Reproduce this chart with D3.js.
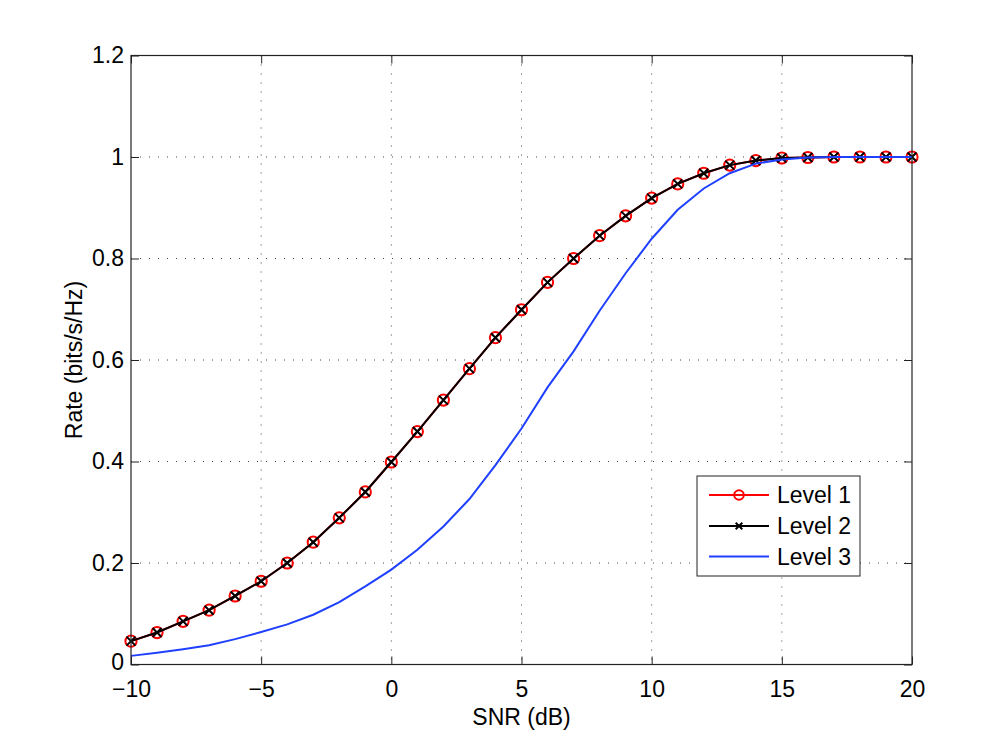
<!DOCTYPE html>
<html>
<head>
<meta charset="utf-8">
<script src="https://cdn.jsdelivr.net/npm/d3@7/dist/d3.min.js"></script>
<style>
  html, body { margin: 0; padding: 0; background: #fff; }
  svg { display: block; font-family: "Liberation Sans", Arial, Helvetica, sans-serif; }
</style>
</head>
<body>
<svg id="chart" width="1008" height="748"></svg>
<script>
const snr = d3.range(-10, 21);
const level1 = [0.046, 0.063, 0.085, 0.107, 0.135, 0.164, 0.200, 0.241, 0.289, 0.340,
                0.399, 0.459, 0.521, 0.583, 0.644, 0.699, 0.753, 0.800, 0.845, 0.884,
                0.919, 0.947, 0.968, 0.984, 0.993, 0.998, 0.999, 1.0, 1.0, 1.0, 1.0];
const level2 = [0.046, 0.063, 0.085, 0.107, 0.135, 0.164, 0.200, 0.241, 0.289, 0.340,
                0.399, 0.459, 0.521, 0.583, 0.644, 0.699, 0.753, 0.800, 0.845, 0.884,
                0.919, 0.947, 0.968, 0.984, 0.993, 0.998, 0.999, 1.0, 1.0, 1.0, 1.0];
const level3 = [0.017, 0.023, 0.030, 0.038, 0.050, 0.064, 0.079, 0.098, 0.123, 0.154,
                0.187, 0.226, 0.272, 0.326, 0.393, 0.465, 0.546, 0.617, 0.697, 0.771,
                0.839, 0.896, 0.938, 0.968, 0.987, 0.995, 0.999, 1.0, 1.0, 1.0, 1.0];
const xTicks = [-10, -5, 0, 5, 10, 15, 20];
const yTicks = [0, 0.2, 0.4, 0.6, 0.8, 1, 1.2];
const seriesNames = ["Level 1", "Level 2", "Level 3"];
const seriesColors = ["#ff0000", "#000000", "#2040ff"];

const svg = d3.select("#chart");
const L = 131, R = 912, T = 55.5, B = 664.5;
const FS = 23;
const x = d3.scaleLinear().domain([-10, 20]).range([L, R]);
const y = d3.scaleLinear().domain([0, 1.2]).range([B, T]);

// grid
const grid = svg.append("g");
grid.selectAll("line.gx").data(xTicks.slice(1, -1)).enter().append("line")
  .attr("x1", d => x(d)).attr("x2", d => x(d)).attr("y1", T).attr("y2", B)
  .attr("stroke", "#444").attr("stroke-width", 1).attr("stroke-dasharray", "1,8");
grid.selectAll("line.gy").data(yTicks.slice(1, -1)).enter().append("line")
  .attr("y1", d => y(d)).attr("y2", d => y(d)).attr("x1", L).attr("x2", R)
  .attr("stroke", "#444").attr("stroke-width", 1).attr("stroke-dasharray", "1,8");

// axes
const fmtX = d => d < 0 ? "\u2212" + Math.abs(d) : String(d);
const fmtY = d => String(d);
const ax = svg.append("g").attr("transform", `translate(0,${B})`)
  .call(d3.axisBottom(x).tickValues(xTicks).tickFormat(fmtX).tickSizeInner(-8).tickSizeOuter(0).tickPadding(16));
const axT = svg.append("g").attr("transform", `translate(0,${T})`)
  .call(d3.axisTop(x).tickValues(xTicks).tickFormat("").tickSizeInner(-8).tickSizeOuter(0));
const ay = svg.append("g").attr("transform", `translate(${L},0)`)
  .call(d3.axisLeft(y).tickValues(yTicks).tickFormat(fmtY).tickSizeInner(-8).tickSizeOuter(0).tickPadding(7));
const ayR = svg.append("g").attr("transform", `translate(${R},0)`)
  .call(d3.axisRight(y).tickValues(yTicks).tickFormat("").tickSizeInner(-8).tickSizeOuter(0));
[ax, axT, ay, ayR].forEach(g => {
  g.select(".domain").remove();
  g.selectAll(".tick line").attr("stroke", "#222").attr("stroke-width", 1);
  g.selectAll(".tick text").attr("font-size", FS).attr("fill", "#000")
    .attr("font-family", "'Liberation Sans', Arial, sans-serif");
});
ax.selectAll(".tick text").attr("dy", "0.71em");
ay.selectAll(".tick text").filter(d => d === 0).attr("y", -2);

// lines
const lineGen = vals => d3.line().x((d, i) => x(snr[i])).y(d => y(d))(vals);
const plot = svg.append("g");
plot.append("path").attr("d", lineGen(level1)).attr("fill", "none")
  .attr("stroke", seriesColors[0]).attr("stroke-width", 2);
plot.selectAll("circle.m1").data(level1).enter().append("circle")
  .attr("cx", (d, i) => x(snr[i])).attr("cy", d => y(d)).attr("r", 5.6)
  .attr("fill", "none").attr("stroke", seriesColors[0]).attr("stroke-width", 2);
plot.append("path").attr("d", lineGen(level2)).attr("fill", "none")
  .attr("stroke", seriesColors[1]).attr("stroke-width", 2);
const xm = 4.5;
plot.selectAll("path.m2").data(level2).enter().append("path")
  .attr("d", (d, i) => {
    const cx = x(snr[i]), cy = y(d);
    return `M${cx - xm},${cy - xm}L${cx + xm},${cy + xm}M${cx - xm},${cy + xm}L${cx + xm},${cy - xm}`;
  })
  .attr("fill", "none").attr("stroke", seriesColors[1]).attr("stroke-width", 2);
plot.append("path").attr("d", lineGen(level3)).attr("fill", "none")
  .attr("stroke", seriesColors[2]).attr("stroke-width", 2);

// frame
svg.append("rect").attr("x", L).attr("y", T).attr("width", R - L).attr("height", B - T)
  .attr("fill", "none").attr("stroke", "#222").attr("stroke-width", 1.2);

// axis labels
svg.append("text").attr("x", (L + R) / 2).attr("y", 725).attr("text-anchor", "middle")
  .attr("font-size", FS).text("SNR (dB)");
svg.append("text").attr("transform", `translate(82,${(T + B) / 2}) rotate(-90)`)
  .attr("text-anchor", "middle").attr("font-size", FS).text("Rate (bits/s/Hz)");

// legend
const lg = svg.append("g");
lg.append("rect").attr("x", 697).attr("y", 476).attr("width", 163).attr("height", 100)
  .attr("fill", "#fff").attr("stroke", "#222").attr("stroke-width", 1);
const rows = [495, 526, 556.5];
seriesNames.forEach((name, i) => {
  const yy = rows[i];
  lg.append("line").attr("x1", 709).attr("x2", 769).attr("y1", yy).attr("y2", yy)
    .attr("stroke", seriesColors[i]).attr("stroke-width", 2);
  if (i === 0) {
    lg.append("circle").attr("cx", 739).attr("cy", yy).attr("r", 4.8)
      .attr("fill", "none").attr("stroke", seriesColors[0]).attr("stroke-width", 2);
  } else if (i === 1) {
    const s = 3.3;
    lg.append("path").attr("d", `M${739 - s},${yy - s}L${739 + s},${yy + s}M${739 - s},${yy + s}L${739 + s},${yy - s}`)
      .attr("stroke", "#000").attr("stroke-width", 2);
  }
  lg.append("text").attr("x", 777).attr("y", yy).attr("dy", "0.36em")
    .attr("font-size", FS).text(name);
});
</script>
</body>
</html>
